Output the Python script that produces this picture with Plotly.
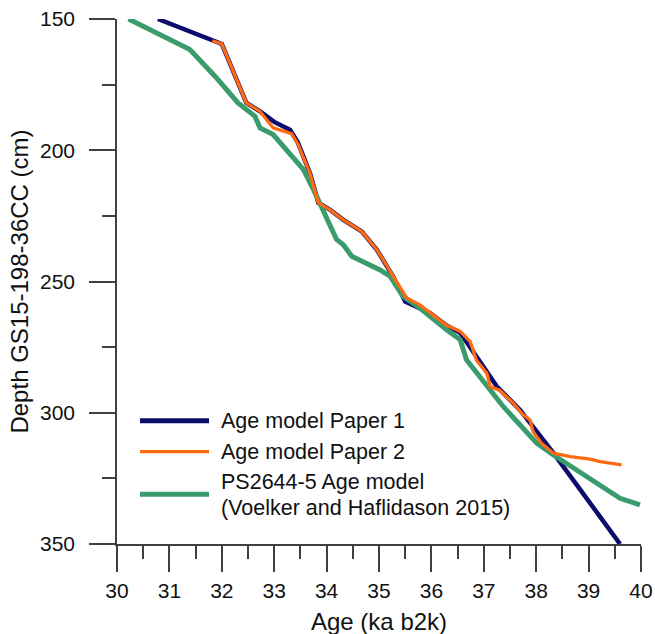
import plotly.graph_objects as go

# Age model of core GS15-198-36CC: age (ka b2k) against depth (cm)
paper1_age = [30.78, 31.85, 32.0, 32.47, 32.73, 33.0, 33.30, 33.45, 33.68, 33.80, 33.84,
              34.06, 34.32, 34.67, 34.96, 35.27, 35.50, 35.97, 36.29, 36.55, 37.25,
              37.69, 38.33, 39.60]
paper1_depth = [150.0, 158.5, 159.5, 182.0, 185.2, 189.2, 192.2, 197.0, 208.6, 217.0, 220.0,
                222.6, 226.5, 230.9, 237.9, 248.1, 257.6, 262.0, 266.8, 269.5, 290.0,
                298.9, 315.4, 350.0]

paper2_age = [31.82, 32.0, 32.47, 32.73, 32.98, 33.33, 33.45, 33.68, 33.84, 34.06, 34.32,
              34.67, 34.96, 35.27, 35.53, 35.78, 36.29, 36.55, 36.74, 36.86, 37.06,
              37.12, 37.31, 37.56, 37.75, 37.88, 37.94, 38.10, 38.33, 38.65, 39.03,
              39.22, 39.63]
paper2_depth = [158.3, 159.5, 182.0, 185.2, 191.5, 193.7, 197.5, 208.6, 220.0, 222.6, 226.5,
                230.9, 237.9, 248.1, 256.3, 258.9, 266.7, 269.0, 272.9, 280.0, 285.0,
                290.0, 291.5, 296.3, 300.8, 302.7, 307.2, 311.6, 315.4, 316.7, 317.7,
                318.6, 319.9]

ps2644_age = [30.22, 31.39, 31.87, 32.31, 32.63, 32.73, 32.98, 33.24, 33.56, 33.75, 33.87,
              34.19, 34.32, 34.48, 35.02, 35.21, 35.46, 35.78, 36.29, 36.55, 36.61,
              36.67, 37.37, 38.01, 38.33, 38.96, 39.60, 39.98]
ps2644_depth = [150.0, 161.6, 171.8, 182.0, 187.0, 191.5, 194.0, 199.8, 207.4, 215.0, 220.0,
                234.0, 236.0, 240.4, 245.6, 248.0, 255.7, 260.1, 268.4, 272.2, 276.0,
                279.8, 297.6, 311.6, 316.1, 324.3, 332.6, 335.1]

series_names = ["Age model Paper 1", "Age model Paper 2",
                "PS2644-5 Age model", "(Voelker and Haflidason 2015)"]
x_title = "Age (ka b2k)"
y_title = "Depth GS15-198-36CC (cm)"

BLUE = "#0c0c6c"
ORANGE = "#ff6a12"
GREEN = "#3a9b6c"
AXIS = "#404040"
TEXT = "#111111"
FONT = "Liberation Sans, Arial, sans-serif"

W, H = 655, 634
ML, MR, MT, MB = 117, 14, 19, 90
PW, PH = W - ML - MR, H - MT - MB


def px(x):
    return (x - ML) / PW


def py(y):
    return (H - MB - y) / PH


fig = go.Figure()
fig.add_trace(go.Scatter(x=paper1_age, y=paper1_depth, mode="lines",
                         line=dict(color=BLUE, width=4.5), showlegend=False))
fig.add_trace(go.Scatter(x=ps2644_age, y=ps2644_depth, mode="lines",
                         line=dict(color=GREEN, width=5), showlegend=False))
fig.add_trace(go.Scatter(x=paper2_age, y=paper2_depth, mode="lines",
                         line=dict(color=ORANGE, width=3.3), showlegend=False))

# legend block drawn in paper space
legend_rows = [(420.7, BLUE, 5), (451.7, ORANGE, 3.3), (494.3, GREEN, 5)]
for ly, col, w in legend_rows:
    fig.add_shape(type="line", xref="paper", yref="paper",
                  x0=px(140), x1=px(209), y0=py(ly), y1=py(ly),
                  line=dict(color=col, width=w))
text_rows = [421.5, 452.0, 481.5, 507.5]
for name, ty in zip(series_names, text_rows):
    fig.add_annotation(text=name, xref="paper", yref="paper", x=px(219), y=py(ty),
                       xanchor="left", yanchor="middle", showarrow=False,
                       font=dict(family=FONT, size=21.5, color=TEXT))

# x axis title, set below the tick labels
fig.add_annotation(text=x_title, xref="paper", yref="paper", x=0.5, y=py(621),
                   xanchor="center", yanchor="middle", showarrow=False,
                   font=dict(family=FONT, size=24, color=TEXT))

tick_common = dict(ticks="outside", ticklen=26, tickwidth=1.5, tickcolor=AXIS,
                   showline=True, linecolor=AXIS, linewidth=1.5,
                   showgrid=False, zeroline=False, automargin=False,
                   tickfont=dict(family=FONT, size=21, color=TEXT))

fig.update_xaxes(range=[30, 40], tick0=30, dtick=1,
                 minor=dict(dtick=0.5, ticks="outside", ticklen=13, tickwidth=1.5,
                            tickcolor=AXIS, showgrid=False),
                 ticklabelstandoff=1,
                 **tick_common)
fig.update_yaxes(range=[350, 150], tick0=150, dtick=50,
                 minor=dict(dtick=25, ticks="outside", ticklen=13, tickwidth=1.5,
                            tickcolor=AXIS, showgrid=False),
                 ticklabelstandoff=10,
                 title=dict(text=y_title, standoff=5,
                            font=dict(family=FONT, size=24, color=TEXT)),
                 **tick_common)

fig.update_layout(width=W, height=H, margin=dict(l=ML, r=MR, t=MT, b=MB),
                  paper_bgcolor="white", plot_bgcolor="white", showlegend=False,
                  font=dict(family=FONT))

fig.write_html("out.html")
